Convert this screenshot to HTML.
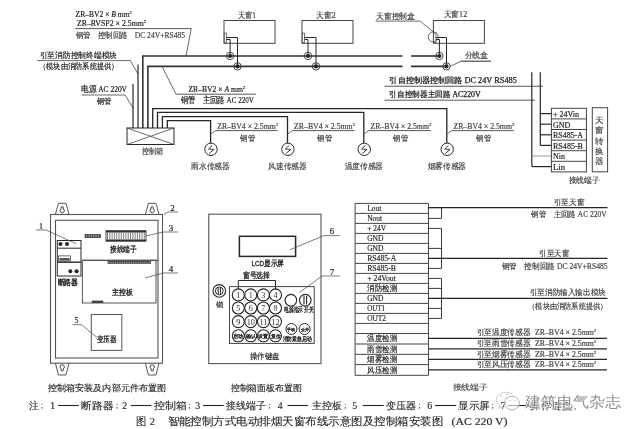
<!DOCTYPE html>
<html><head><meta charset="utf-8"><style>
html,body{margin:0;padding:0;background:#fff;width:640px;height:429px;overflow:hidden}
svg{display:block;filter:blur(0.35px)}
</style></head><body>
<svg width="640" height="429" viewBox="0 0 640 429">
<rect x="0" y="0" width="640" height="429" fill="#fff"/>
<text x="75.6" y="17.35" font-size="8.2" fill="#222" stroke="#222" stroke-width="0.18" font-family='"Liberation Serif", serif' textLength="56.30" lengthAdjust="spacingAndGlyphs" >ZR–BV2 × <tspan font-style="italic">B</tspan> mm<tspan font-size="5" dy="-3">2</tspan></text>
<text x="76.9" y="26.05" font-size="8.2" fill="#222" stroke="#222" stroke-width="0.18" font-family='"Liberation Serif", serif' textLength="69.35" lengthAdjust="spacingAndGlyphs" >ZR–RVSP2 × 2.5mm<tspan font-size="5" dy="-3">2</tspan></text>
<line x1="75" y1="28.6" x2="191.25" y2="28.6" stroke="#444" stroke-width="0.9"/>
<line x1="191.25" y1="28.6" x2="186" y2="56" stroke="#444" stroke-width="0.8"/>
<text x="75.6" y="37.65" font-size="8.2" fill="#444" stroke="#444" stroke-width="0.18" font-family='"Liberation Serif", serif' textLength="109.40" lengthAdjust="spacingAndGlyphs" ><tspan font-size="7.63">钢管　控制回路　</tspan>DC 24V+RS485</text>
<text x="39.7" y="58.28" font-size="8" fill="#222" stroke="#222" stroke-width="0.18" font-family='"Liberation Serif", serif' textLength="77.30" lengthAdjust="spacingAndGlyphs" >引至消防控制终端模块</text>
<line x1="37.3" y1="60.6" x2="130.3" y2="60.6" stroke="#444" stroke-width="0.8"/>
<line x1="130.3" y1="60.6" x2="138" y2="74" stroke="#444" stroke-width="0.8"/>
<text x="38.9" y="68.98" font-size="8" fill="#222" stroke="#222" stroke-width="0.18" font-family='"Liberation Serif", serif' textLength="79.70" lengthAdjust="spacingAndGlyphs" >（模块由消防系统提供）</text>
<text x="81.1" y="92.07" font-size="8.8" fill="#222" stroke="#222" stroke-width="0.2" font-family='"Liberation Serif", serif' textLength="45.90" lengthAdjust="spacingAndGlyphs" >电源 AC 220V</text>
<line x1="81.6" y1="95" x2="125.1" y2="95" stroke="#444" stroke-width="0.8"/>
<line x1="125.1" y1="95" x2="133" y2="108" stroke="#444" stroke-width="0.8"/>
<text x="96.6" y="104.48" font-size="8" fill="#222" stroke="#222" stroke-width="0.18" font-family='"Liberation Serif", serif' textLength="14.50" lengthAdjust="spacingAndGlyphs" >钢管</text>
<polyline points="142.8,128 142.8,56 402.5,56" fill="none" stroke="#333" stroke-width="1.6"/>
<polyline points="411,56 439.4,56" fill="none" stroke="#333" stroke-width="1.6"/>
<polyline points="147.9,128 147.9,66.4 402.5,66.4" fill="none" stroke="#333" stroke-width="1.6"/>
<polyline points="411,66.4 446.5,66.4" fill="none" stroke="#333" stroke-width="1.6"/>
<line x1="133" y1="84" x2="133" y2="128" stroke="#262626" stroke-width="1.2"/>
<line x1="138" y1="64.5" x2="138" y2="128" stroke="#262626" stroke-width="1.2"/>
<polyline points="152.7,128 152.7,108.7 446.8,108.7 446.8,143.1" fill="none" stroke="#262626" stroke-width="1.3"/>
<polyline points="157.5,128 157.5,112.4 363.8,112.4 363.8,143.1" fill="none" stroke="#262626" stroke-width="1.3"/>
<polyline points="162.4,128 162.4,116.6 287.5,116.6 287.5,143.1" fill="none" stroke="#262626" stroke-width="1.3"/>
<polyline points="167.3,128 167.3,120.6 210.6,120.6 210.6,143.1" fill="none" stroke="#262626" stroke-width="1.3"/>
<rect x="127" y="128" width="47" height="16.5" fill="none" stroke="#262626" stroke-width="1"/>
<line x1="127" y1="128" x2="174" y2="144.5" stroke="#444" stroke-width="0.8"/>
<line x1="127" y1="144.5" x2="174" y2="128" stroke="#444" stroke-width="0.8"/>
<text x="141.6" y="154.13" font-size="8" fill="#444" stroke="#444" stroke-width="0.18" font-family='"Liberation Serif", serif' textLength="21.20" lengthAdjust="spacingAndGlyphs" >控制箱</text>
<line x1="162" y1="66.4" x2="176" y2="94.2" stroke="#444" stroke-width="0.8"/>
<line x1="176" y1="94.2" x2="255.9" y2="94.2" stroke="#444" stroke-width="0.9"/>
<text x="188.4" y="91.85" font-size="8.2" fill="#222" stroke="#222" stroke-width="0.18" font-family='"Liberation Serif", serif' textLength="56.90" lengthAdjust="spacingAndGlyphs" >ZR–BV2 × <tspan font-style="italic">A</tspan> mm<tspan font-size="5" dy="-3">2</tspan></text>
<text x="180.6" y="103.20" font-size="8.6" fill="#222" stroke="#222" stroke-width="0.18" font-family='"Liberation Serif", serif' textLength="73.20" lengthAdjust="spacingAndGlyphs" >钢管　主回路 AC 220V</text>
<circle cx="211.0" cy="149.3" r="6.2" fill="none" stroke="#262626" stroke-width="1"/>
<polyline points="212.29999999999998,145.4 208.5,149 213.79999999999998,149.5 209.2,153.4" fill="none" stroke="#262626" stroke-width="0.9"/>
<text x="191.35" y="168.68" font-size="8" fill="#444" stroke="#444" stroke-width="0.18" font-family='"Liberation Serif", serif' textLength="38.50" lengthAdjust="spacingAndGlyphs" >雨水传感器</text>
<line x1="211.1" y1="133.7" x2="215.6" y2="130.6" stroke="#444" stroke-width="0.8"/>
<line x1="215.6" y1="130.6" x2="277.6" y2="130.6" stroke="#444" stroke-width="0.9"/>
<text x="217.2" y="128.78" font-size="8" fill="#444" stroke="#444" stroke-width="0.18" font-family='"Liberation Serif", serif' textLength="61.00" lengthAdjust="spacingAndGlyphs" >ZR–BV4 × 2.5mm<tspan font-size="5" dy="-3">2</tspan></text>
<text x="240.1" y="140.78" font-size="8" fill="#444" stroke="#444" stroke-width="0.18" font-family='"Liberation Serif", serif' textLength="15.00" lengthAdjust="spacingAndGlyphs" >钢管</text>
<circle cx="287.9" cy="149.3" r="6.2" fill="none" stroke="#262626" stroke-width="1"/>
<polyline points="289.2,145.4 285.4,149 290.7,149.5 286.1,153.4" fill="none" stroke="#262626" stroke-width="0.9"/>
<text x="268.25" y="168.68" font-size="8" fill="#444" stroke="#444" stroke-width="0.18" font-family='"Liberation Serif", serif' textLength="38.50" lengthAdjust="spacingAndGlyphs" >风速传感器</text>
<line x1="288.0" y1="133.7" x2="292.5" y2="130.6" stroke="#444" stroke-width="0.8"/>
<line x1="292.5" y1="130.6" x2="354.5" y2="130.6" stroke="#444" stroke-width="0.9"/>
<text x="294.1" y="128.78" font-size="8" fill="#444" stroke="#444" stroke-width="0.18" font-family='"Liberation Serif", serif' textLength="61.00" lengthAdjust="spacingAndGlyphs" >ZR–BV4 × 2.5mm<tspan font-size="5" dy="-3">2</tspan></text>
<text x="317.0" y="140.78" font-size="8" fill="#444" stroke="#444" stroke-width="0.18" font-family='"Liberation Serif", serif' textLength="15.00" lengthAdjust="spacingAndGlyphs" >钢管</text>
<circle cx="364.2" cy="149.3" r="6.2" fill="none" stroke="#262626" stroke-width="1"/>
<polyline points="365.5,145.4 361.7,149 367.0,149.5 362.40000000000003,153.4" fill="none" stroke="#262626" stroke-width="0.9"/>
<text x="344.55" y="168.68" font-size="8" fill="#444" stroke="#444" stroke-width="0.18" font-family='"Liberation Serif", serif' textLength="38.50" lengthAdjust="spacingAndGlyphs" >温度传感器</text>
<line x1="364.3" y1="133.7" x2="368.8" y2="130.6" stroke="#444" stroke-width="0.8"/>
<line x1="368.8" y1="130.6" x2="430.8" y2="130.6" stroke="#444" stroke-width="0.9"/>
<text x="370.40000000000003" y="128.78" font-size="8" fill="#444" stroke="#444" stroke-width="0.18" font-family='"Liberation Serif", serif' textLength="61.00" lengthAdjust="spacingAndGlyphs" >ZR–BV4 × 2.5mm<tspan font-size="5" dy="-3">2</tspan></text>
<text x="393.3" y="140.78" font-size="8" fill="#444" stroke="#444" stroke-width="0.18" font-family='"Liberation Serif", serif' textLength="15.00" lengthAdjust="spacingAndGlyphs" >钢管</text>
<circle cx="447.2" cy="149.3" r="6.2" fill="none" stroke="#262626" stroke-width="1"/>
<polyline points="448.5,145.4 444.7,149 450.0,149.5 445.40000000000003,153.4" fill="none" stroke="#262626" stroke-width="0.9"/>
<text x="427.55" y="168.68" font-size="8" fill="#444" stroke="#444" stroke-width="0.18" font-family='"Liberation Serif", serif' textLength="38.50" lengthAdjust="spacingAndGlyphs" >烟雾传感器</text>
<line x1="447.3" y1="133.7" x2="451.8" y2="130.6" stroke="#444" stroke-width="0.8"/>
<line x1="451.8" y1="130.6" x2="513.8" y2="130.6" stroke="#444" stroke-width="0.9"/>
<text x="453.40000000000003" y="128.78" font-size="8" fill="#444" stroke="#444" stroke-width="0.18" font-family='"Liberation Serif", serif' textLength="61.00" lengthAdjust="spacingAndGlyphs" >ZR–BV4 × 2.5mm<tspan font-size="5" dy="-3">2</tspan></text>
<text x="476.3" y="140.78" font-size="8" fill="#444" stroke="#444" stroke-width="0.18" font-family='"Liberation Serif", serif' textLength="15.00" lengthAdjust="spacingAndGlyphs" >钢管</text>
<rect x="224" y="20.5" width="51" height="22.799999999999997" fill="none" stroke="#444" stroke-width="1"/>
<text x="238" y="18.36" font-size="8.5" fill="#444" stroke="#444" stroke-width="0.18" font-family='"Liberation Serif", serif' textLength="18.00" lengthAdjust="spacingAndGlyphs" ><tspan font-size="7.91">天窗</tspan>1</text>
<rect x="224.2" y="33.1" width="2.3000000000000114" height="9.299999999999997" fill="none" stroke="#555" stroke-width="0.8"/>
<rect x="302" y="20.5" width="51" height="22.799999999999997" fill="none" stroke="#444" stroke-width="1"/>
<text x="315.9" y="17.66" font-size="8.5" fill="#444" stroke="#444" stroke-width="0.18" font-family='"Liberation Serif", serif' textLength="19.70" lengthAdjust="spacingAndGlyphs" ><tspan font-size="7.91">天窗</tspan>2</text>
<rect x="302.2" y="33.1" width="2.3000000000000114" height="9.299999999999997" fill="none" stroke="#555" stroke-width="0.8"/>
<rect x="433.4" y="20.5" width="51.0" height="22.799999999999997" fill="none" stroke="#444" stroke-width="1"/>
<text x="443.75" y="17.26" font-size="8.5" fill="#444" stroke="#444" stroke-width="0.18" font-family='"Liberation Serif", serif' textLength="23.45" lengthAdjust="spacingAndGlyphs" ><tspan font-size="7.91">天窗</tspan>12</text>
<rect x="433.59999999999997" y="33.1" width="2.3000000000000114" height="9.299999999999997" fill="none" stroke="#555" stroke-width="0.8"/>
<polyline points="226.7,37.5 237.5,37.5 237.5,66.4" fill="none" stroke="#262626" stroke-width="1"/>
<polyline points="226.7,39.5 230.1,39.5 230.1,56" fill="none" stroke="#262626" stroke-width="1"/>
<circle cx="230.1" cy="56" r="3.7" fill="none" stroke="#333" stroke-width="0.9"/>
<circle cx="230.1" cy="56" r="2.1" fill="#262626" stroke="#262626" stroke-width="0"/>
<circle cx="237.5" cy="66.4" r="3.7" fill="none" stroke="#333" stroke-width="0.9"/>
<circle cx="237.5" cy="66.4" r="2.1" fill="#262626" stroke="#262626" stroke-width="0"/>
<polyline points="304.5,37.5 316,37.5 316,66.4" fill="none" stroke="#262626" stroke-width="1"/>
<polyline points="304.5,39.5 308,39.5 308,56" fill="none" stroke="#262626" stroke-width="1"/>
<circle cx="308" cy="56" r="3.7" fill="none" stroke="#333" stroke-width="0.9"/>
<circle cx="308" cy="56" r="2.1" fill="#262626" stroke="#262626" stroke-width="0"/>
<circle cx="316" cy="66.4" r="3.7" fill="none" stroke="#333" stroke-width="0.9"/>
<circle cx="316" cy="66.4" r="2.1" fill="#262626" stroke="#262626" stroke-width="0"/>
<polyline points="435.9,37.5 446.5,37.5 446.5,66.4" fill="none" stroke="#262626" stroke-width="1"/>
<polyline points="435.9,39.5 439.4,39.5 439.4,56" fill="none" stroke="#262626" stroke-width="1"/>
<circle cx="439.4" cy="56" r="3.7" fill="none" stroke="#333" stroke-width="0.9"/>
<circle cx="439.4" cy="56" r="2.1" fill="#262626" stroke="#262626" stroke-width="0"/>
<circle cx="446.5" cy="66.4" r="3.7" fill="none" stroke="#333" stroke-width="0.9"/>
<circle cx="446.5" cy="66.4" r="2.1" fill="#262626" stroke="#262626" stroke-width="0"/>
<text x="376" y="19.06" font-size="8.5" fill="#444" stroke="#444" stroke-width="0.18" font-family='"Liberation Serif", serif' textLength="39.00" lengthAdjust="spacingAndGlyphs" ><tspan font-size="7.91">天窗控制盒</tspan></text>
<polyline points="375.6,21.1 420,21.1 433.5,32" fill="none" stroke="#444" stroke-width="0.8"/>
<circle cx="433.2" cy="36.9" r="5" fill="none" stroke="#444" stroke-width="0.8"/>
<text x="464.5" y="58.28" font-size="8" fill="#444" stroke="#444" stroke-width="0.18" font-family='"Liberation Serif", serif' textLength="23.60" lengthAdjust="spacingAndGlyphs" >分线盒</text>
<line x1="461.3" y1="61.2" x2="490.9" y2="61.2" stroke="#262626" stroke-width="1"/>
<line x1="461.3" y1="61.2" x2="450" y2="66.4" stroke="#444" stroke-width="0.8"/>
<text x="389.4" y="83.25" font-size="8.2" fill="#222" stroke="#222" stroke-width="0.25" font-family='"Liberation Serif", serif' textLength="127.50" lengthAdjust="spacingAndGlyphs" ><tspan font-size="7.95">引自控制器控制回路</tspan> DC 24V  RS485</text>
<line x1="384.4" y1="86.25" x2="543" y2="86.25" stroke="#444" stroke-width="0.9"/>
<text x="389.4" y="96.95" font-size="8.2" fill="#222" stroke="#222" stroke-width="0.25" font-family='"Liberation Serif", serif' textLength="91.20" lengthAdjust="spacingAndGlyphs" ><tspan font-size="7.95">引自控制器主回路</tspan> AC220V</text>
<line x1="384.4" y1="100.2" x2="535" y2="100.2" stroke="#444" stroke-width="0.9"/>
<line x1="531.8" y1="72.3" x2="531.8" y2="166.6" stroke="#262626" stroke-width="1.2"/>
<line x1="540.3" y1="72.3" x2="540.3" y2="145.4" stroke="#262626" stroke-width="1.2"/>
<line x1="540.3" y1="113.6" x2="551.4" y2="113.6" stroke="#262626" stroke-width="1.2"/>
<line x1="540.3" y1="124.2" x2="551.4" y2="124.2" stroke="#262626" stroke-width="1.2"/>
<line x1="540.3" y1="134.8" x2="551.4" y2="134.8" stroke="#262626" stroke-width="1.2"/>
<line x1="540.3" y1="145.4" x2="551.4" y2="145.4" stroke="#262626" stroke-width="1.2"/>
<line x1="531.8" y1="166.6" x2="551.4" y2="166.6" stroke="#262626" stroke-width="1.2"/>
<line x1="531" y1="156" x2="551.4" y2="156" stroke="#888" stroke-width="0.8"/>
<rect x="551.4" y="108.3" width="35.0" height="63.60000000000001" fill="none" stroke="#444" stroke-width="1"/>
<line x1="551.4" y1="118.89999999999999" x2="586.4" y2="118.89999999999999" stroke="#444" stroke-width="1"/>
<line x1="551.4" y1="129.5" x2="586.4" y2="129.5" stroke="#444" stroke-width="1"/>
<line x1="551.4" y1="140.1" x2="586.4" y2="140.1" stroke="#444" stroke-width="1"/>
<line x1="551.4" y1="150.7" x2="586.4" y2="150.7" stroke="#444" stroke-width="1"/>
<line x1="551.4" y1="161.3" x2="586.4" y2="161.3" stroke="#444" stroke-width="1"/>
<text x="553" y="117.36" font-size="8.5" fill="#222" stroke="#222" stroke-width="0.18" font-family='"Liberation Serif", serif' textLength="26.00" lengthAdjust="spacingAndGlyphs" >+ 24Vin</text>
<text x="553" y="127.76" font-size="8.5" fill="#222" stroke="#222" stroke-width="0.18" font-family='"Liberation Serif", serif' textLength="17.30" lengthAdjust="spacingAndGlyphs" >GND</text>
<text x="553" y="138.26" font-size="8.5" fill="#222" stroke="#222" stroke-width="0.18" font-family='"Liberation Serif", serif' textLength="29.90" lengthAdjust="spacingAndGlyphs" >RS485-A</text>
<text x="553" y="148.56" font-size="8.5" fill="#222" stroke="#222" stroke-width="0.18" font-family='"Liberation Serif", serif' textLength="30.00" lengthAdjust="spacingAndGlyphs" >RS485-B</text>
<text x="553" y="159.26" font-size="8.5" fill="#222" stroke="#222" stroke-width="0.18" font-family='"Liberation Serif", serif' textLength="12.00" lengthAdjust="spacingAndGlyphs" >Nin</text>
<text x="553" y="169.96" font-size="8.5" fill="#222" stroke="#222" stroke-width="0.18" font-family='"Liberation Serif", serif' textLength="12.00" lengthAdjust="spacingAndGlyphs" >Lin</text>
<rect x="592.3" y="107.7" width="15.300000000000068" height="64.10000000000001" fill="none" stroke="#444" stroke-width="1"/>
<text x="594.95" y="122.96" font-size="8.5" fill="#444" stroke="#444" stroke-width="0.18" font-family='"Liberation Serif", serif' textLength="8.50" lengthAdjust="spacingAndGlyphs" ><tspan font-size="7.91">天</tspan></text>
<text x="594.95" y="133.46" font-size="8.5" fill="#444" stroke="#444" stroke-width="0.18" font-family='"Liberation Serif", serif' textLength="8.50" lengthAdjust="spacingAndGlyphs" ><tspan font-size="7.91">窗</tspan></text>
<text x="594.95" y="143.96" font-size="8.5" fill="#444" stroke="#444" stroke-width="0.18" font-family='"Liberation Serif", serif' textLength="8.50" lengthAdjust="spacingAndGlyphs" ><tspan font-size="7.91">转</tspan></text>
<text x="594.95" y="154.46" font-size="8.5" fill="#444" stroke="#444" stroke-width="0.18" font-family='"Liberation Serif", serif' textLength="8.50" lengthAdjust="spacingAndGlyphs" ><tspan font-size="7.91">换</tspan></text>
<text x="594.95" y="163.86" font-size="8.5" fill="#444" stroke="#444" stroke-width="0.18" font-family='"Liberation Serif", serif' textLength="8.50" lengthAdjust="spacingAndGlyphs" ><tspan font-size="7.91">器</tspan></text>
<text x="568.6" y="182.76" font-size="8.5" fill="#444" stroke="#444" stroke-width="0.18" font-family='"Liberation Serif", serif' textLength="31.10" lengthAdjust="spacingAndGlyphs" ><tspan font-size="7.91">接线端子</tspan></text>
<rect x="50.5" y="214.5" width="112.0" height="148.7" fill="none" stroke="#555" stroke-width="1.1"/>
<rect x="55.5" y="220.3" width="102.5" height="137.7" fill="none" stroke="#555" stroke-width="1.1"/>
<polyline points="55.400000000000006,214.5 58.400000000000006,203.3 66.0,203.3 69.0,214.5" fill="none" stroke="#444" stroke-width="0.9"/>
<path d="M 61.0 209 L 61.2 207 Q 62.2 206 63.2 207 L 63.400000000000006 209 A 2.1 2.1 0 1 1 61.0 209 Z" fill="none" stroke="#262626" stroke-width="0.9"/>
<polyline points="55.400000000000006,363.2 58.400000000000006,375 66.0,375 69.0,363.2" fill="none" stroke="#444" stroke-width="0.9"/>
<path d="M 61.0 368.6 L 61.2 370.6 Q 62.2 371.6 63.2 370.6 L 63.400000000000006 368.6 A 2.1 2.1 0 1 0 61.0 368.6 Z" fill="none" stroke="#262626" stroke-width="0.9"/>
<polyline points="145.39999999999998,214.5 148.39999999999998,203.3 156.0,203.3 159.0,214.5" fill="none" stroke="#444" stroke-width="0.9"/>
<path d="M 151.0 209 L 151.2 207 Q 152.2 206 153.2 207 L 153.39999999999998 209 A 2.1 2.1 0 1 1 151.0 209 Z" fill="none" stroke="#262626" stroke-width="0.9"/>
<polyline points="145.39999999999998,363.2 148.39999999999998,375 156.0,375 159.0,363.2" fill="none" stroke="#444" stroke-width="0.9"/>
<path d="M 151.0 368.6 L 151.2 370.6 Q 152.2 371.6 153.2 370.6 L 153.39999999999998 368.6 A 2.1 2.1 0 1 0 151.0 368.6 Z" fill="none" stroke="#262626" stroke-width="0.9"/>
<rect x="57.3" y="240.5" width="23.700000000000003" height="35.5" fill="none" stroke="#262626" stroke-width="1"/>
<line x1="57.3" y1="248.2" x2="81" y2="248.2" stroke="#262626" stroke-width="1"/>
<line x1="57.3" y1="262.2" x2="81" y2="262.2" stroke="#262626" stroke-width="1.4"/>
<rect x="58.7" y="255.9" width="11.599999999999994" height="5.099999999999994" fill="none" stroke="#262626" stroke-width="0.7"/>
<rect x="59.5" y="258" width="10.0" height="2.5" fill="#555" stroke="#262626" stroke-width="0"/>
<circle cx="60.5" cy="244" r="2" fill="#262626" stroke="#262626" stroke-width="0"/>
<circle cx="67" cy="244" r="2" fill="#262626" stroke="#262626" stroke-width="0"/>
<circle cx="70.3" cy="271.3" r="2" fill="#262626" stroke="#262626" stroke-width="0"/>
<circle cx="76.6" cy="271.3" r="2" fill="#262626" stroke="#262626" stroke-width="0"/>
<text x="57.7" y="284.68" font-size="8" fill="#222" stroke="#222" stroke-width="0.4" font-family='"Liberation Sans", sans-serif' textLength="20.30" lengthAdjust="spacingAndGlyphs" >断路器</text>
<text x="39.0" y="229.06" font-size="8.5" fill="#222" stroke="#222" stroke-width="0.18" font-family='"Liberation Serif", serif' textLength="4.00" lengthAdjust="spacingAndGlyphs" >1</text>
<line x1="36" y1="230" x2="46" y2="230" stroke="#444" stroke-width="0.7"/>
<line x1="46" y1="230" x2="76" y2="243.7" stroke="#444" stroke-width="0.7"/>
<rect x="85" y="234.5" width="15.599999999999994" height="3.1999999999999886" fill="#555" stroke="#262626" stroke-width="0.6"/>
<line x1="86.5" y1="235.2" x2="86.5" y2="237" stroke="#ddd" stroke-width="0.6"/>
<line x1="88.9" y1="235.2" x2="88.9" y2="237" stroke="#ddd" stroke-width="0.6"/>
<line x1="91.3" y1="235.2" x2="91.3" y2="237" stroke="#ddd" stroke-width="0.6"/>
<line x1="93.7" y1="235.2" x2="93.7" y2="237" stroke="#ddd" stroke-width="0.6"/>
<line x1="96.1" y1="235.2" x2="96.1" y2="237" stroke="#ddd" stroke-width="0.6"/>
<line x1="98.5" y1="235.2" x2="98.5" y2="237" stroke="#ddd" stroke-width="0.6"/>
<rect x="106" y="230.7" width="40" height="10.5" fill="#fff" stroke="#262626" stroke-width="0.8"/>
<rect x="106" y="230.7" width="40" height="1.8000000000000114" fill="#333" stroke="#262626" stroke-width="0"/>
<rect x="106" y="239.5" width="40" height="1.6999999999999886" fill="#333" stroke="#262626" stroke-width="0"/>
<line x1="107.5" y1="232.5" x2="107.5" y2="239.5" stroke="#262626" stroke-width="0.6"/>
<line x1="109.8" y1="232.5" x2="109.8" y2="239.5" stroke="#262626" stroke-width="0.6"/>
<line x1="112.1" y1="232.5" x2="112.1" y2="239.5" stroke="#262626" stroke-width="0.6"/>
<line x1="114.4" y1="232.5" x2="114.4" y2="239.5" stroke="#262626" stroke-width="0.6"/>
<line x1="116.7" y1="232.5" x2="116.7" y2="239.5" stroke="#262626" stroke-width="0.6"/>
<line x1="119.0" y1="232.5" x2="119.0" y2="239.5" stroke="#262626" stroke-width="0.6"/>
<line x1="121.3" y1="232.5" x2="121.3" y2="239.5" stroke="#262626" stroke-width="0.6"/>
<line x1="123.6" y1="232.5" x2="123.6" y2="239.5" stroke="#262626" stroke-width="0.6"/>
<line x1="125.9" y1="232.5" x2="125.9" y2="239.5" stroke="#262626" stroke-width="0.6"/>
<line x1="128.2" y1="232.5" x2="128.2" y2="239.5" stroke="#262626" stroke-width="0.6"/>
<line x1="130.5" y1="232.5" x2="130.5" y2="239.5" stroke="#262626" stroke-width="0.6"/>
<line x1="132.8" y1="232.5" x2="132.8" y2="239.5" stroke="#262626" stroke-width="0.6"/>
<line x1="135.1" y1="232.5" x2="135.1" y2="239.5" stroke="#262626" stroke-width="0.6"/>
<line x1="137.4" y1="232.5" x2="137.4" y2="239.5" stroke="#262626" stroke-width="0.6"/>
<line x1="139.7" y1="232.5" x2="139.7" y2="239.5" stroke="#262626" stroke-width="0.6"/>
<line x1="142.0" y1="232.5" x2="142.0" y2="239.5" stroke="#262626" stroke-width="0.6"/>
<line x1="144.3" y1="232.5" x2="144.3" y2="239.5" stroke="#262626" stroke-width="0.6"/>
<text x="109.9" y="252.20" font-size="7.5" fill="#222" stroke="#222" stroke-width="0.3" font-family='"Liberation Sans", sans-serif' textLength="26.70" lengthAdjust="spacingAndGlyphs" >接线端子</text>
<line x1="82.4" y1="260.3" x2="158" y2="260.3" stroke="#262626" stroke-width="1"/>
<rect x="82.4" y="260.3" width="73.6" height="42.69999999999999" fill="none" stroke="#555" stroke-width="1"/>
<rect x="107.5" y="261" width="43.5" height="2.8000000000000114" fill="#444" stroke="#262626" stroke-width="0"/>
<line x1="108.8" y1="261.6" x2="108.8" y2="263.2" stroke="#ddd" stroke-width="0.6"/>
<line x1="111.05" y1="261.6" x2="111.05" y2="263.2" stroke="#ddd" stroke-width="0.6"/>
<line x1="113.3" y1="261.6" x2="113.3" y2="263.2" stroke="#ddd" stroke-width="0.6"/>
<line x1="115.55" y1="261.6" x2="115.55" y2="263.2" stroke="#ddd" stroke-width="0.6"/>
<line x1="117.8" y1="261.6" x2="117.8" y2="263.2" stroke="#ddd" stroke-width="0.6"/>
<line x1="120.05" y1="261.6" x2="120.05" y2="263.2" stroke="#ddd" stroke-width="0.6"/>
<line x1="122.3" y1="261.6" x2="122.3" y2="263.2" stroke="#ddd" stroke-width="0.6"/>
<line x1="124.55" y1="261.6" x2="124.55" y2="263.2" stroke="#ddd" stroke-width="0.6"/>
<line x1="126.8" y1="261.6" x2="126.8" y2="263.2" stroke="#ddd" stroke-width="0.6"/>
<line x1="129.05" y1="261.6" x2="129.05" y2="263.2" stroke="#ddd" stroke-width="0.6"/>
<line x1="131.3" y1="261.6" x2="131.3" y2="263.2" stroke="#ddd" stroke-width="0.6"/>
<line x1="133.55" y1="261.6" x2="133.55" y2="263.2" stroke="#ddd" stroke-width="0.6"/>
<line x1="135.8" y1="261.6" x2="135.8" y2="263.2" stroke="#ddd" stroke-width="0.6"/>
<line x1="138.05" y1="261.6" x2="138.05" y2="263.2" stroke="#ddd" stroke-width="0.6"/>
<line x1="140.3" y1="261.6" x2="140.3" y2="263.2" stroke="#ddd" stroke-width="0.6"/>
<line x1="142.55" y1="261.6" x2="142.55" y2="263.2" stroke="#ddd" stroke-width="0.6"/>
<line x1="144.8" y1="261.6" x2="144.8" y2="263.2" stroke="#ddd" stroke-width="0.6"/>
<line x1="147.05" y1="261.6" x2="147.05" y2="263.2" stroke="#ddd" stroke-width="0.6"/>
<line x1="149.3" y1="261.6" x2="149.3" y2="263.2" stroke="#ddd" stroke-width="0.6"/>
<rect x="91.8" y="300.6" width="11.5" height="2.3999999999999773" fill="#444" stroke="#262626" stroke-width="0"/>
<text x="112.3" y="295.40" font-size="7.5" fill="#222" stroke="#222" stroke-width="0.3" font-family='"Liberation Sans", sans-serif' textLength="20.50" lengthAdjust="spacingAndGlyphs" >主控板</text>
<rect x="91.3" y="314.5" width="30.5" height="35.89999999999998" fill="none" stroke="#555" stroke-width="1"/>
<text x="96.5" y="342.20" font-size="7.5" fill="#222" stroke="#222" stroke-width="0.3" font-family='"Liberation Sans", sans-serif' textLength="19.90" lengthAdjust="spacingAndGlyphs" >变压器</text>
<text x="74.4" y="322.66" font-size="8.5" fill="#222" stroke="#222" stroke-width="0.18" font-family='"Liberation Serif", serif' textLength="4.00" lengthAdjust="spacingAndGlyphs" >5</text>
<line x1="72.5" y1="324.7" x2="81.5" y2="324.7" stroke="#444" stroke-width="0.7"/>
<line x1="81.5" y1="324.7" x2="97" y2="337.5" stroke="#444" stroke-width="0.7"/>
<text x="170.25" y="210.56" font-size="8.5" fill="#222" stroke="#222" stroke-width="0.18" font-family='"Liberation Serif", serif' textLength="4.50" lengthAdjust="spacingAndGlyphs" >2</text>
<line x1="163.7" y1="214.5" x2="168" y2="212" stroke="#444" stroke-width="0.7"/>
<line x1="168" y1="212" x2="178" y2="212" stroke="#444" stroke-width="0.7"/>
<text x="168.75" y="230.56" font-size="8.5" fill="#222" stroke="#222" stroke-width="0.18" font-family='"Liberation Serif", serif' textLength="4.50" lengthAdjust="spacingAndGlyphs" >3</text>
<line x1="146" y1="236" x2="163" y2="232" stroke="#444" stroke-width="0.7"/>
<line x1="163" y1="232" x2="178" y2="232" stroke="#444" stroke-width="0.7"/>
<text x="168.75" y="271.81" font-size="8.5" fill="#222" stroke="#222" stroke-width="0.18" font-family='"Liberation Serif", serif' textLength="4.50" lengthAdjust="spacingAndGlyphs" >4</text>
<line x1="145" y1="278" x2="163" y2="273" stroke="#444" stroke-width="0.7"/>
<line x1="163" y1="273" x2="178" y2="273" stroke="#444" stroke-width="0.7"/>
<text x="48" y="390.64" font-size="9" fill="#262626" stroke="#262626" stroke-width="0.15" font-family='"Liberation Serif", serif' textLength="118.00" lengthAdjust="spacingAndGlyphs" >控制箱安装及内部元件布置图</text>
<rect x="208.75" y="214.2" width="112.25" height="149.40000000000003" fill="none" stroke="#555" stroke-width="1.1"/>
<rect x="239.4" y="236.3" width="56.20000000000002" height="20.099999999999966" fill="none" stroke="#262626" stroke-width="1.5"/>
<text x="251.4" y="266.30" font-size="7.5" fill="#222" stroke="#222" stroke-width="0.3" font-family='"Liberation Sans", sans-serif' textLength="32.80" lengthAdjust="spacingAndGlyphs" >LCD显示屏</text>
<text x="329.65" y="234.31" font-size="8.5" fill="#222" stroke="#222" stroke-width="0.18" font-family='"Liberation Serif", serif' textLength="4.50" lengthAdjust="spacingAndGlyphs" >6</text>
<line x1="289.7" y1="249.8" x2="324" y2="235.6" stroke="#444" stroke-width="0.7"/>
<line x1="324" y1="235.6" x2="340" y2="235.6" stroke="#444" stroke-width="0.7"/>
<text x="242.7" y="278.40" font-size="7.5" fill="#222" stroke="#222" stroke-width="0.3" font-family='"Liberation Sans", sans-serif' textLength="27.30" lengthAdjust="spacingAndGlyphs" >窗号选择</text>
<polyline points="238.3,289.5 238.3,280.5 275.5,280.5 275.5,289.5" fill="none" stroke="#262626" stroke-width="1"/>
<text x="329.65" y="274.76" font-size="8.5" fill="#222" stroke="#222" stroke-width="0.18" font-family='"Liberation Serif", serif' textLength="4.50" lengthAdjust="spacingAndGlyphs" >7</text>
<line x1="299.5" y1="292.5" x2="322" y2="276" stroke="#444" stroke-width="0.7"/>
<line x1="322" y1="276" x2="340" y2="276" stroke="#444" stroke-width="0.7"/>
<rect x="229.5" y="286.6" width="84.69999999999999" height="56.799999999999955" fill="none" stroke="#444" stroke-width="1"/>
<circle cx="238.3" cy="294.9" r="6" fill="none" stroke="#262626" stroke-width="1.1"/>
<text x="238.3" y="297.9" font-size="8.2" text-anchor="middle" fill="#333" font-family='"Liberation Serif", serif' >1</text>
<circle cx="250.75" cy="294.9" r="6" fill="none" stroke="#262626" stroke-width="1.1"/>
<text x="250.75" y="297.9" font-size="8.2" text-anchor="middle" fill="#333" font-family='"Liberation Serif", serif' >1</text>
<circle cx="263.4" cy="294.9" r="6" fill="none" stroke="#262626" stroke-width="1.1"/>
<text x="263.4" y="297.9" font-size="8.2" text-anchor="middle" fill="#333" font-family='"Liberation Serif", serif' >3</text>
<circle cx="275.5" cy="294.9" r="6" fill="none" stroke="#262626" stroke-width="1.1"/>
<text x="275.5" y="297.9" font-size="8.2" text-anchor="middle" fill="#333" font-family='"Liberation Serif", serif' >4</text>
<circle cx="238.3" cy="308" r="6" fill="none" stroke="#262626" stroke-width="1.1"/>
<text x="238.3" y="311" font-size="8.2" text-anchor="middle" fill="#333" font-family='"Liberation Serif", serif' >5</text>
<circle cx="250.75" cy="308" r="6" fill="none" stroke="#262626" stroke-width="1.1"/>
<text x="250.75" y="311" font-size="8.2" text-anchor="middle" fill="#333" font-family='"Liberation Serif", serif' >6</text>
<circle cx="263.4" cy="308" r="6" fill="none" stroke="#262626" stroke-width="1.1"/>
<text x="263.4" y="311" font-size="8.2" text-anchor="middle" fill="#333" font-family='"Liberation Serif", serif' >7</text>
<circle cx="275.5" cy="308" r="6" fill="none" stroke="#262626" stroke-width="1.1"/>
<text x="275.5" y="311" font-size="8.2" text-anchor="middle" fill="#333" font-family='"Liberation Serif", serif' >8</text>
<circle cx="238.3" cy="321.6" r="6" fill="none" stroke="#262626" stroke-width="1.1"/>
<text x="238.3" y="324.6" font-size="8.2" text-anchor="middle" fill="#333" font-family='"Liberation Serif", serif' >9</text>
<circle cx="250.75" cy="321.6" r="6" fill="none" stroke="#262626" stroke-width="1.1"/>
<text x="250.75" y="324.6" font-size="8.2" text-anchor="middle" fill="#333" font-family='"Liberation Serif", serif' >10</text>
<circle cx="263.4" cy="321.6" r="6" fill="none" stroke="#262626" stroke-width="1.1"/>
<text x="263.4" y="324.6" font-size="8.2" text-anchor="middle" fill="#333" font-family='"Liberation Serif", serif' >11</text>
<circle cx="275.5" cy="321.6" r="6" fill="none" stroke="#262626" stroke-width="1.1"/>
<text x="275.5" y="324.6" font-size="8.2" text-anchor="middle" fill="#333" font-family='"Liberation Serif", serif' >12</text>
<circle cx="238.3" cy="335.8" r="6" fill="none" stroke="#262626" stroke-width="1.1"/>
<text x="238.3" y="337.6" font-size="4.5" text-anchor="middle" fill="#222" font-family='"Liberation Sans", sans-serif' stroke="#222" stroke-width="0.3">启动</text>
<circle cx="250.75" cy="335.8" r="6" fill="none" stroke="#262626" stroke-width="1.1"/>
<text x="250.75" y="337.6" font-size="4.5" text-anchor="middle" fill="#222" font-family='"Liberation Sans", sans-serif' stroke="#222" stroke-width="0.3">确认</text>
<circle cx="263.4" cy="335.8" r="6" fill="none" stroke="#262626" stroke-width="1.1"/>
<text x="263.4" y="337.6" font-size="4.5" text-anchor="middle" fill="#222" font-family='"Liberation Sans", sans-serif' stroke="#222" stroke-width="0.3">设置</text>
<circle cx="275.5" cy="335.8" r="6" fill="none" stroke="#262626" stroke-width="1.1"/>
<text x="275.5" y="337.6" font-size="4.5" text-anchor="middle" fill="#222" font-family='"Liberation Sans", sans-serif' stroke="#222" stroke-width="0.3">复位</text>
<circle cx="219.3" cy="290.9" r="6.3" fill="none" stroke="#262626" stroke-width="1.1"/>
<circle cx="219.3" cy="290.9" r="3.9" fill="none" stroke="#262626" stroke-width="1"/>
<line x1="218.2" y1="287.6" x2="218.2" y2="294.2" stroke="#262626" stroke-width="1"/>
<line x1="220.4" y1="287.6" x2="220.4" y2="294.2" stroke="#262626" stroke-width="1"/>
<text x="216.15" y="306.70" font-size="7.5" fill="#222" stroke="#222" stroke-width="0.18" font-family='"Liberation Serif", serif' textLength="7.50" lengthAdjust="spacingAndGlyphs" ><tspan font-size="6.98">锁</tspan></text>
<circle cx="290.9" cy="300.2" r="5.8" fill="none" stroke="#262626" stroke-width="1.1"/>
<circle cx="305.3" cy="300.2" r="5.8" fill="none" stroke="#262626" stroke-width="1.1"/>
<line x1="304" y1="296" x2="304" y2="304.4" stroke="#262626" stroke-width="1.1"/>
<line x1="306.6" y1="296" x2="306.6" y2="304.4" stroke="#262626" stroke-width="1.1"/>
<text x="284" y="312.45" font-size="6.8" fill="#222" stroke="#222" stroke-width="0.3" font-family='"Liberation Sans", sans-serif' textLength="30.00" lengthAdjust="spacingAndGlyphs" >电源指示 开关</text>
<circle cx="291.4" cy="329" r="5.5" fill="none" stroke="#262626" stroke-width="1"/>
<circle cx="304.6" cy="329" r="5.5" fill="none" stroke="#262626" stroke-width="1"/>
<text x="291.4" y="330.6" font-size="4.2" text-anchor="middle" fill="#222" font-family='"Liberation Sans", sans-serif' stroke="#222" stroke-width="0.3">手动</text>
<text x="304.6" y="330.6" font-size="4.2" text-anchor="middle" fill="#222" font-family='"Liberation Sans", sans-serif' stroke="#222" stroke-width="0.3">全开</text>
<text x="282.6" y="340.88" font-size="5.5" fill="#222" stroke="#222" stroke-width="0.3" font-family='"Liberation Sans", sans-serif' textLength="28.80" lengthAdjust="spacingAndGlyphs" >消防紧急启动</text>
<text x="249.9" y="359.41" font-size="7.8" fill="#222" stroke="#222" stroke-width="0.15" font-family='"Liberation Sans", sans-serif' textLength="30.00" lengthAdjust="spacingAndGlyphs" >操作键盘</text>
<text x="230.6" y="390.64" font-size="9" fill="#262626" stroke="#262626" stroke-width="0.15" font-family='"Liberation Serif", serif' textLength="71.60" lengthAdjust="spacingAndGlyphs" >控制箱面板布置图</text>
<line x1="355.1" y1="203.4" x2="428.5" y2="203.4" stroke="#444" stroke-width="1"/>
<line x1="355.1" y1="213.4" x2="428.5" y2="213.4" stroke="#444" stroke-width="1"/>
<line x1="355.1" y1="223.4" x2="428.5" y2="223.4" stroke="#444" stroke-width="1"/>
<line x1="355.1" y1="233.4" x2="428.5" y2="233.4" stroke="#444" stroke-width="1"/>
<line x1="355.1" y1="243.4" x2="428.5" y2="243.4" stroke="#444" stroke-width="1"/>
<line x1="355.1" y1="253.4" x2="428.5" y2="253.4" stroke="#444" stroke-width="1"/>
<line x1="355.1" y1="263.4" x2="428.5" y2="263.4" stroke="#444" stroke-width="1"/>
<line x1="355.1" y1="273.4" x2="428.5" y2="273.4" stroke="#444" stroke-width="1"/>
<line x1="355.1" y1="283.4" x2="428.5" y2="283.4" stroke="#444" stroke-width="1"/>
<line x1="355.1" y1="293.4" x2="428.5" y2="293.4" stroke="#444" stroke-width="1"/>
<line x1="355.1" y1="303.4" x2="428.5" y2="303.4" stroke="#444" stroke-width="1"/>
<line x1="355.1" y1="313.4" x2="428.5" y2="313.4" stroke="#444" stroke-width="1"/>
<line x1="355.1" y1="323.4" x2="428.5" y2="323.4" stroke="#444" stroke-width="1"/>
<line x1="355.1" y1="333.5" x2="428.5" y2="333.5" stroke="#444" stroke-width="1"/>
<line x1="355.1" y1="344" x2="428.5" y2="344" stroke="#444" stroke-width="1"/>
<line x1="355.1" y1="354.3" x2="428.5" y2="354.3" stroke="#444" stroke-width="1"/>
<line x1="355.1" y1="364.6" x2="428.5" y2="364.6" stroke="#444" stroke-width="1"/>
<line x1="355.1" y1="375.3" x2="428.5" y2="375.3" stroke="#444" stroke-width="1"/>
<line x1="355.1" y1="203.4" x2="355.1" y2="375.3" stroke="#444" stroke-width="1"/>
<line x1="428.5" y1="203.4" x2="428.5" y2="375.3" stroke="#444" stroke-width="1"/>
<text x="367.2" y="211.46" font-size="8.5" fill="#262626" stroke="#262626" stroke-width="0.18" font-family='"Liberation Serif", serif' textLength="14.05" lengthAdjust="spacingAndGlyphs" >Lout</text>
<text x="367.2" y="221.46" font-size="8.5" fill="#262626" stroke="#262626" stroke-width="0.18" font-family='"Liberation Serif", serif' textLength="15.00" lengthAdjust="spacingAndGlyphs" >Nout</text>
<text x="367.2" y="231.46" font-size="8.5" fill="#262626" stroke="#262626" stroke-width="0.18" font-family='"Liberation Serif", serif' textLength="18.80" lengthAdjust="spacingAndGlyphs" >+ 24V</text>
<text x="367.2" y="241.46" font-size="8.5" fill="#262626" stroke="#262626" stroke-width="0.18" font-family='"Liberation Serif", serif' textLength="16.30" lengthAdjust="spacingAndGlyphs" >GND</text>
<text x="367.2" y="251.46" font-size="8.5" fill="#262626" stroke="#262626" stroke-width="0.18" font-family='"Liberation Serif", serif' textLength="16.30" lengthAdjust="spacingAndGlyphs" >GND</text>
<text x="367.2" y="261.46" font-size="8.5" fill="#262626" stroke="#262626" stroke-width="0.18" font-family='"Liberation Serif", serif' textLength="29.05" lengthAdjust="spacingAndGlyphs" >RS485-A</text>
<text x="367.2" y="271.46" font-size="8.5" fill="#262626" stroke="#262626" stroke-width="0.18" font-family='"Liberation Serif", serif' textLength="28.70" lengthAdjust="spacingAndGlyphs" >RS485-B</text>
<text x="367.2" y="281.46" font-size="8.5" fill="#262626" stroke="#262626" stroke-width="0.18" font-family='"Liberation Serif", serif' textLength="28.70" lengthAdjust="spacingAndGlyphs" >+ 24Vout</text>
<text x="367.2" y="291.14" font-size="7.6" fill="#262626" stroke="#262626" stroke-width="0.18" font-family='"Liberation Serif", serif' textLength="30.00" lengthAdjust="spacingAndGlyphs" >消防检测</text>
<text x="367.2" y="301.46" font-size="8.5" fill="#262626" stroke="#262626" stroke-width="0.18" font-family='"Liberation Serif", serif' textLength="16.30" lengthAdjust="spacingAndGlyphs" >GND</text>
<text x="367.2" y="311.46" font-size="8.5" fill="#262626" stroke="#262626" stroke-width="0.18" font-family='"Liberation Serif", serif' textLength="17.80" lengthAdjust="spacingAndGlyphs" >OUT1</text>
<text x="367.2" y="321.46" font-size="8.5" fill="#262626" stroke="#262626" stroke-width="0.18" font-family='"Liberation Serif", serif' textLength="18.80" lengthAdjust="spacingAndGlyphs" >OUT2</text>
<text x="367.2" y="341.49" font-size="7.6" fill="#262626" stroke="#262626" stroke-width="0.18" font-family='"Liberation Serif", serif' textLength="29.80" lengthAdjust="spacingAndGlyphs" >温度检测</text>
<text x="367.2" y="351.89" font-size="7.6" fill="#262626" stroke="#262626" stroke-width="0.18" font-family='"Liberation Serif", serif' textLength="29.80" lengthAdjust="spacingAndGlyphs" >雨雪检测</text>
<text x="367.2" y="362.19" font-size="7.6" fill="#262626" stroke="#262626" stroke-width="0.18" font-family='"Liberation Serif", serif' textLength="29.80" lengthAdjust="spacingAndGlyphs" >烟雾检测</text>
<text x="367.2" y="372.69" font-size="7.6" fill="#262626" stroke="#262626" stroke-width="0.18" font-family='"Liberation Serif", serif' textLength="29.80" lengthAdjust="spacingAndGlyphs" >风压检测</text>
<line x1="428.5" y1="207.6" x2="441.5" y2="207.6" stroke="#262626" stroke-width="0.9"/>
<line x1="428.5" y1="218.4" x2="441.5" y2="218.4" stroke="#262626" stroke-width="0.9"/>
<line x1="441.5" y1="207.6" x2="441.5" y2="218.4" stroke="#262626" stroke-width="0.9"/>
<line x1="428.5" y1="207.6" x2="607.5" y2="207.6" stroke="#262626" stroke-width="1.3"/>
<line x1="428.5" y1="228.4" x2="441.5" y2="228.4" stroke="#262626" stroke-width="0.9"/>
<line x1="428.5" y1="268.4" x2="441.5" y2="268.4" stroke="#262626" stroke-width="0.9"/>
<line x1="428.5" y1="248.4" x2="441.5" y2="248.4" stroke="#262626" stroke-width="0.9"/>
<line x1="441.5" y1="228.4" x2="441.5" y2="268.4" stroke="#262626" stroke-width="0.9"/>
<line x1="428.5" y1="258.4" x2="607.5" y2="258.4" stroke="#262626" stroke-width="1.3"/>
<line x1="428.5" y1="278.4" x2="441.5" y2="278.4" stroke="#262626" stroke-width="0.9"/>
<line x1="428.5" y1="318.4" x2="441.5" y2="318.4" stroke="#262626" stroke-width="0.9"/>
<line x1="428.5" y1="288.4" x2="441.5" y2="288.4" stroke="#262626" stroke-width="0.9"/>
<line x1="428.5" y1="308.4" x2="441.5" y2="308.4" stroke="#262626" stroke-width="0.9"/>
<line x1="441.5" y1="278.4" x2="441.5" y2="318.4" stroke="#262626" stroke-width="0.9"/>
<line x1="428.5" y1="298.4" x2="607.5" y2="298.4" stroke="#262626" stroke-width="1.3"/>
<line x1="428.5" y1="338.3" x2="607" y2="338.3" stroke="#262626" stroke-width="1.3"/>
<line x1="428.5" y1="348.9" x2="607" y2="348.9" stroke="#262626" stroke-width="1.3"/>
<line x1="428.5" y1="359.4" x2="607" y2="359.4" stroke="#262626" stroke-width="1.3"/>
<line x1="428.5" y1="369.8" x2="607" y2="369.8" stroke="#262626" stroke-width="1.3"/>
<text x="553.75" y="204.88" font-size="8" fill="#444" stroke="#444" stroke-width="0.18" font-family='"Liberation Serif", serif' textLength="30.65" lengthAdjust="spacingAndGlyphs" >引至天窗</text>
<text x="531.25" y="217.08" font-size="8" fill="#444" stroke="#444" stroke-width="0.18" font-family='"Liberation Serif", serif' textLength="75.25" lengthAdjust="spacingAndGlyphs" >钢管　主回路 AC 220V</text>
<text x="539.1" y="255.68" font-size="8" fill="#444" stroke="#444" stroke-width="0.18" font-family='"Liberation Serif", serif' textLength="30.00" lengthAdjust="spacingAndGlyphs" >引至天窗</text>
<text x="501.6" y="268.88" font-size="8" fill="#444" stroke="#444" stroke-width="0.18" font-family='"Liberation Serif", serif' textLength="106.00" lengthAdjust="spacingAndGlyphs" >钢管　控制回路 DC 24V+RS485</text>
<text x="529.6" y="295.41" font-size="7.8" fill="#444" stroke="#444" stroke-width="0.18" font-family='"Liberation Serif", serif' textLength="76.40" lengthAdjust="spacingAndGlyphs" >引至消防输入输出模块</text>
<text x="528.2" y="308.81" font-size="7.8" fill="#444" stroke="#444" stroke-width="0.18" font-family='"Liberation Serif", serif' textLength="79.30" lengthAdjust="spacingAndGlyphs" >（模块由消防系统提供）</text>
<text x="476.5" y="335.14" font-size="7.6" fill="#444" stroke="#444" stroke-width="0.18" font-family='"Liberation Serif", serif' textLength="54.00" lengthAdjust="spacingAndGlyphs" >引至温度传感器</text>
<text x="535" y="335.21" font-size="7.8" fill="#444" stroke="#444" stroke-width="0.18" font-family='"Liberation Serif", serif' textLength="61.30" lengthAdjust="spacingAndGlyphs" >ZR–BV4 × 2.5mm<tspan font-size="5" dy="-3">2</tspan></text>
<text x="476.5" y="346.04" font-size="7.6" fill="#444" stroke="#444" stroke-width="0.18" font-family='"Liberation Serif", serif' textLength="54.00" lengthAdjust="spacingAndGlyphs" >引至雨雪传感器</text>
<text x="535" y="346.11" font-size="7.8" fill="#444" stroke="#444" stroke-width="0.18" font-family='"Liberation Serif", serif' textLength="61.30" lengthAdjust="spacingAndGlyphs" >ZR–BV4 × 2.5mm<tspan font-size="5" dy="-3">2</tspan></text>
<text x="476.5" y="356.54" font-size="7.6" fill="#444" stroke="#444" stroke-width="0.18" font-family='"Liberation Serif", serif' textLength="54.00" lengthAdjust="spacingAndGlyphs" >引至烟雾传感器</text>
<text x="535" y="356.61" font-size="7.8" fill="#444" stroke="#444" stroke-width="0.18" font-family='"Liberation Serif", serif' textLength="61.30" lengthAdjust="spacingAndGlyphs" >ZR–BV4 × 2.5mm<tspan font-size="5" dy="-3">2</tspan></text>
<text x="476.5" y="366.74" font-size="7.6" fill="#444" stroke="#444" stroke-width="0.18" font-family='"Liberation Serif", serif' textLength="54.00" lengthAdjust="spacingAndGlyphs" >引至风压传感器</text>
<text x="535" y="366.81" font-size="7.8" fill="#444" stroke="#444" stroke-width="0.18" font-family='"Liberation Serif", serif' textLength="61.30" lengthAdjust="spacingAndGlyphs" >ZR–BV4 × 2.5mm<tspan font-size="5" dy="-3">2</tspan></text>
<text x="452.5" y="390.28" font-size="8" fill="#444" stroke="#444" stroke-width="0.12" font-family='"Liberation Serif", serif' textLength="35.50" lengthAdjust="spacingAndGlyphs" >接线端子</text>
<text x="29.4" y="408.66" font-size="9.6" fill="#262626" stroke="#262626" stroke-width="0.12" font-family='"Liberation Serif", serif' textLength="9.95" lengthAdjust="spacingAndGlyphs" >注</text>
<text x="40.75" y="408.2" font-size="9" fill="#262626" font-family='"Liberation Serif", serif'>;</text>
<text x="50.300000000000004" y="408.59999999999997" font-size="9.8" fill="#262626" font-family='"Liberation Serif", serif' stroke="#262626" stroke-width="0.15">1</text>
<line x1="58.1" y1="405.5" x2="78.75" y2="405.5" stroke="#262626" stroke-width="1.1"/>
<text x="81.30000000000001" y="408.66" font-size="9.6" fill="#262626" stroke="#262626" stroke-width="0.12" font-family='"Liberation Serif", serif' textLength="32.30" lengthAdjust="spacingAndGlyphs" >断路器</text>
<text x="115.75" y="408.2" font-size="9" fill="#262626" font-family='"Liberation Serif", serif'>;</text>
<text x="122.2" y="408.59999999999997" font-size="9.8" fill="#262626" font-family='"Liberation Serif", serif' stroke="#262626" stroke-width="0.15">2</text>
<line x1="130.6" y1="405.5" x2="151.25" y2="405.5" stroke="#262626" stroke-width="1.1"/>
<text x="153.8" y="408.66" font-size="9.6" fill="#262626" stroke="#262626" stroke-width="0.12" font-family='"Liberation Serif", serif' textLength="33.05" lengthAdjust="spacingAndGlyphs" >控制箱</text>
<text x="188.25" y="408.2" font-size="9" fill="#262626" font-family='"Liberation Serif", serif'>;</text>
<text x="195.29999999999998" y="408.59999999999997" font-size="9.8" fill="#262626" font-family='"Liberation Serif", serif' stroke="#262626" stroke-width="0.15">3</text>
<line x1="203.1" y1="405.5" x2="223.75" y2="405.5" stroke="#262626" stroke-width="1.1"/>
<text x="225.65" y="408.66" font-size="9.6" fill="#262626" stroke="#262626" stroke-width="0.12" font-family='"Liberation Serif", serif' textLength="39.95" lengthAdjust="spacingAndGlyphs" >接线端子</text>
<text x="268.25" y="408.2" font-size="9" fill="#262626" font-family='"Liberation Serif", serif'>;</text>
<text x="277.8" y="408.59999999999997" font-size="9.8" fill="#262626" font-family='"Liberation Serif", serif' stroke="#262626" stroke-width="0.15">4</text>
<line x1="287.5" y1="405.5" x2="308.1" y2="405.5" stroke="#262626" stroke-width="1.1"/>
<text x="311.9" y="408.66" font-size="9.6" fill="#262626" stroke="#262626" stroke-width="0.12" font-family='"Liberation Serif", serif' textLength="29.95" lengthAdjust="spacingAndGlyphs" >主控板</text>
<text x="343.9" y="408.2" font-size="9" fill="#262626" font-family='"Liberation Serif", serif'>;</text>
<text x="352.2" y="408.59999999999997" font-size="9.8" fill="#262626" font-family='"Liberation Serif", serif' stroke="#262626" stroke-width="0.15">5</text>
<line x1="362.5" y1="405.5" x2="383.75" y2="405.5" stroke="#262626" stroke-width="1.1"/>
<text x="385.65" y="408.66" font-size="9.6" fill="#262626" stroke="#262626" stroke-width="0.12" font-family='"Liberation Serif", serif' textLength="30.55" lengthAdjust="spacingAndGlyphs" >变压器</text>
<text x="418.25" y="408.2" font-size="9" fill="#262626" font-family='"Liberation Serif", serif'>;</text>
<text x="427.2" y="408.59999999999997" font-size="9.8" fill="#262626" font-family='"Liberation Serif", serif' stroke="#262626" stroke-width="0.15">6</text>
<line x1="435" y1="405.5" x2="456.25" y2="405.5" stroke="#262626" stroke-width="1.1"/>
<text x="458.15" y="408.66" font-size="9.6" fill="#262626" stroke="#262626" stroke-width="0.12" font-family='"Liberation Serif", serif' textLength="31.85" lengthAdjust="spacingAndGlyphs" >显示屏</text>
<text x="491.4" y="408.2" font-size="9" fill="#262626" font-family='"Liberation Serif", serif'>;</text>
<text x="500.7" y="408.59999999999997" font-size="9.8" fill="#262626" font-family='"Liberation Serif", serif' stroke="#262626" stroke-width="0.15">7</text>
<line x1="508" y1="405.5" x2="528" y2="405.5" stroke="#262626" stroke-width="1.1"/>
<text x="530.4" y="408.66" font-size="9.6" fill="#262626" stroke="#262626" stroke-width="0.12" font-family='"Liberation Serif", serif' textLength="42.10" lengthAdjust="spacingAndGlyphs" >操作键盘</text>
<text x="574" y="408.66" font-size="9.6" fill="#262626" stroke="#262626" stroke-width="0.1" font-family='"Liberation Serif", serif' textLength="6.00" lengthAdjust="spacingAndGlyphs" >。</text>
<text x="135.75" y="425.02" font-size="10.6" fill="#262626" stroke="#262626" stroke-width="0.12" font-family='"Liberation Serif", serif' textLength="10.35" lengthAdjust="spacingAndGlyphs" >图</text>
<text x="149.8" y="424.8" font-size="10.5" fill="#262626" font-family='"Liberation Serif", serif' stroke="#262626" stroke-width="0.15">2</text>
<text x="167.5" y="425.02" font-size="10.6" fill="#262626" stroke="#262626" stroke-width="0.12" font-family='"Liberation Serif", serif' textLength="275.60" lengthAdjust="spacingAndGlyphs" >智能控制方式电动排烟天窗布线示意图及控制箱安装图</text>
<text x="451.5" y="424.98" font-size="10.5" fill="#262626" stroke="#262626" stroke-width="0.15" font-family='"Liberation Serif", serif' textLength="56.00" lengthAdjust="spacingAndGlyphs" >(AC 220 V)</text>
<text x="524.5" y="406.5" font-size="14.5" fill="#8e8e8e" stroke="#fff" stroke-width="1.6" stroke-opacity="0.75" style="paint-order:stroke" font-family='"Liberation Sans", sans-serif' textLength="96" lengthAdjust="spacingAndGlyphs">建筑电气杂志</text>
<path d="M 512.5 394 C 508 391 498 391.5 496.5 398.5 C 495.8 402 498 404.5 500 405.5 L 499 408 L 502.5 406.5" fill="none" stroke="#ccc" stroke-width="1"/>
<ellipse cx="512" cy="403" rx="7.4" ry="6.8" fill="#fff" fill-opacity="0.6" stroke="#b0b0b0" stroke-width="1"/>
<g fill="#c8c8c8"><circle cx="501" cy="396" r="0.9"/><circle cx="507" cy="394.5" r="0.9"/><circle cx="510" cy="400.5" r="0.8"/><circle cx="515" cy="400.5" r="0.8"/></g>
</svg></body></html>
